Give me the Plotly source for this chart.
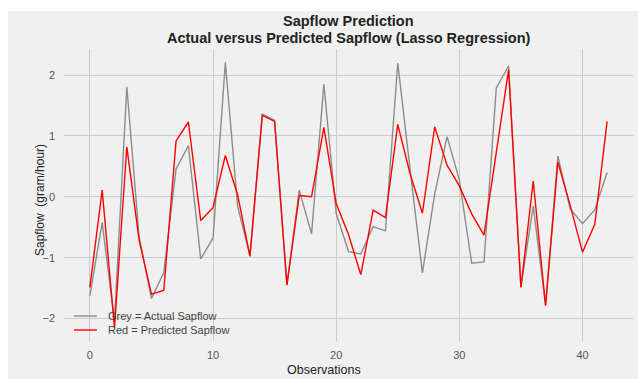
import plotly.graph_objects as go

# Observation index and sapflow values (gram/hour)
observations = list(range(43))
actual_sapflow = [
    -1.63, -0.42, -2.05, 1.81, -0.66, -1.67, -1.25, 0.46, 0.84, -1.02,
    -0.68, 2.21, -0.16, -0.96, 1.36, 1.26, -1.45, 0.11, -0.61, 1.85,
    -0.27, -0.90, -0.94, -0.49, -0.56, 2.20, 0.45, -1.25, 0.05, 0.99,
    0.28, -1.09, -1.07, 1.79, 2.15, -1.48, -0.15, -1.78, 0.67, -0.20,
    -0.44, -0.21, 0.40,
]
predicted_sapflow = [
    -1.49, 0.11, -2.15, 0.82, -0.71, -1.60, -1.54, 0.92, 1.23, -0.39,
    -0.18, 0.68, 0.03, -0.98, 1.34, 1.24, -1.45, 0.02, 0.00, 1.14,
    -0.11, -0.62, -1.28, -0.22, -0.34, 1.19, 0.38, -0.27, 1.15, 0.52,
    0.18, -0.28, -0.63, 0.75, 2.09, -1.49, 0.26, -1.79, 0.57, -0.14,
    -0.91, -0.45, 1.24,
]
series_names = ["Grey = Actual Sapflow", "Red = Predicted Sapflow"]
series_colors = ["#8c8c8c", "#ff0000"]
x_ticks = [0, 10, 20, 30, 40]
y_ticks = [-2, -1, 0, 1, 2]

W, H = 638, 379
L, R, T, B = 64, 5, 49, 38
PW, PH = W - L - R, H - T - B


def px(xp):
    return (xp - L) / PW


def py(yp):
    return (H - B - yp) / PH


FONT = "Liberation Sans, Arial, sans-serif"
BG = "#f0f0f0"

fig = go.Figure()
for vals, name, color in zip([actual_sapflow, predicted_sapflow], series_names, series_colors):
    fig.add_trace(go.Scatter(
        x=observations, y=vals, mode="lines", name=name,
        line=dict(color=color, width=1.4), showlegend=False,
    ))

shapes = [
    # grey figure panel
    dict(type="rect", xref="paper", yref="paper", x0=px(8), x1=px(W), y0=py(H), y1=py(11),
         fillcolor=BG, line=dict(width=0), layer="below"),
]
annotations = [
    dict(text="<b>Sapflow Prediction</b>", x=0.5, y=py(21), xref="paper", yref="paper",
         showarrow=False, xanchor="center", yanchor="middle",
         font=dict(family=FONT, size=14.5, color="#222222")),
    dict(text="<b>Actual versus Predicted Sapflow (Lasso Regression)</b>", x=0.5, y=py(38),
         xref="paper", yref="paper", showarrow=False, xanchor="center", yanchor="middle",
         font=dict(family=FONT, size=14.5, color="#222222")),
    dict(text="Sapflow  (gram/hour)", x=px(40), y=py(200), xref="paper", yref="paper",
         showarrow=False, textangle=-90, xanchor="center", yanchor="middle",
         font=dict(family=FONT, size=12, color="#222222")),
    dict(text="Observations", x=px(324), y=py(370), xref="paper", yref="paper",
         showarrow=False, xanchor="center", yanchor="middle",
         font=dict(family=FONT, size=12.5, color="#222222")),
]

# legend: short line sample followed by its label
for i, (name, color) in enumerate(zip(series_names, series_colors)):
    yy = 316 + 14 * i
    shapes.append(dict(type="line", xref="paper", yref="paper", x0=px(74), x1=px(97),
                       y0=py(yy), y1=py(yy), line=dict(color=color, width=1.4)))
    annotations.append(dict(text=name, x=px(106), y=py(yy), xref="paper", yref="paper",
                            showarrow=False, xanchor="left", yanchor="middle",
                            font=dict(family=FONT, size=11, color="#444444")))

fig.update_layout(
    width=W, height=H,
    margin=dict(l=L, r=R, t=T, b=B, pad=0),
    paper_bgcolor="white",
    plot_bgcolor="rgba(0,0,0,0)",
    showlegend=False,
    shapes=shapes,
    annotations=annotations,
    font=dict(family=FONT, size=11, color="#555555"),
)
fig.update_xaxes(
    range=[-2.1, 44.1], tickvals=x_ticks, showgrid=True, gridcolor="#cbcbcb", gridwidth=1.3,
    zeroline=False, showline=False, ticks="", ticklabelstandoff=6,
    tickfont=dict(family=FONT, size=11, color="#555555"),
)
fig.update_yaxes(
    range=[-2.37, 2.43], tickvals=y_ticks, showgrid=True, gridcolor="#cbcbcb", gridwidth=1.3,
    zeroline=False, showline=False, ticks="", ticklabelstandoff=8,
    tickfont=dict(family=FONT, size=11, color="#555555"),
)

fig.write_html("out.html")
